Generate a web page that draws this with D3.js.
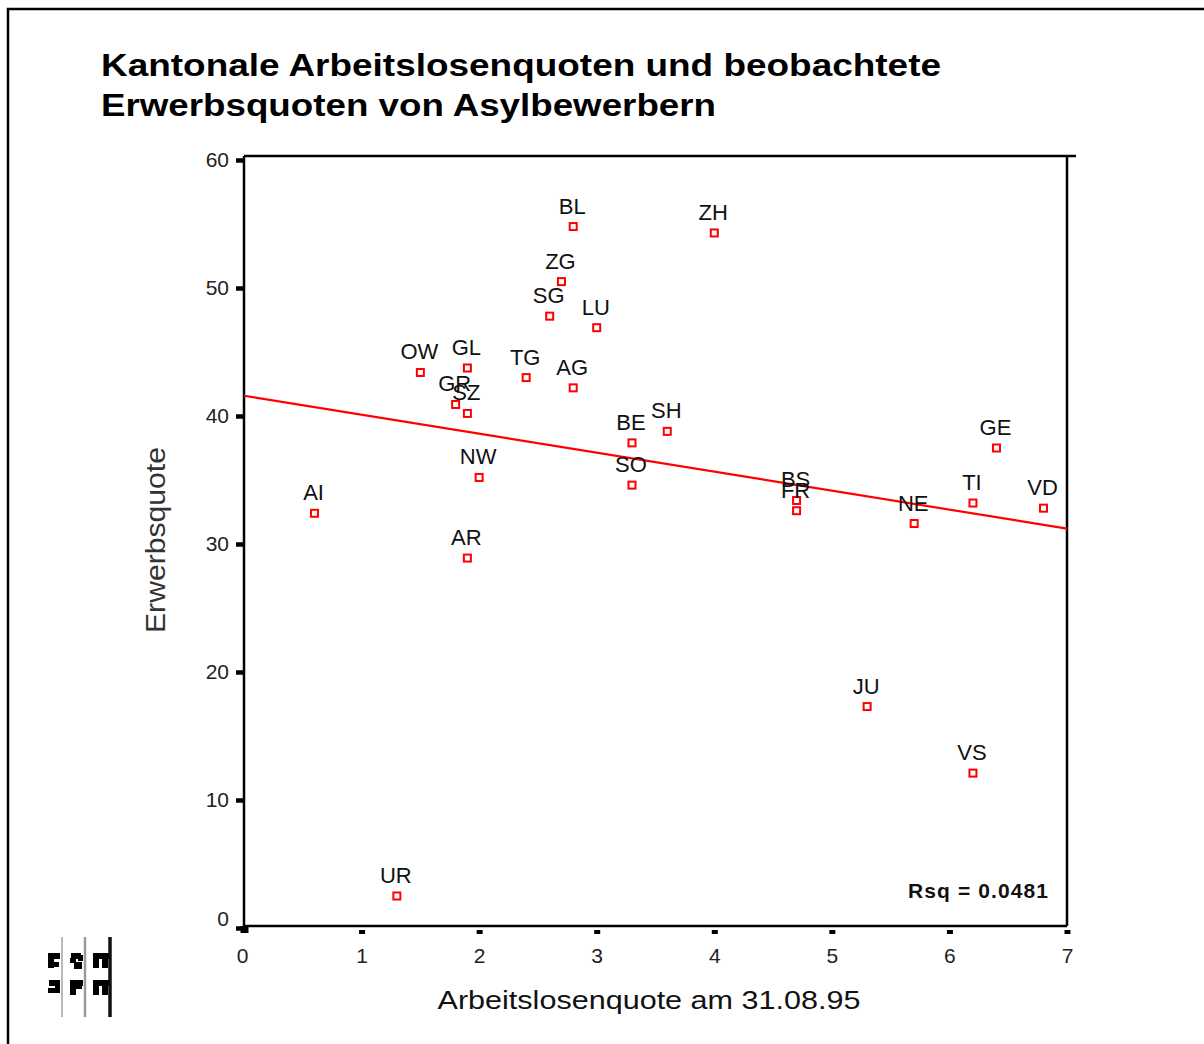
<!DOCTYPE html>
<html><head><meta charset="utf-8">
<script src="https://cdn.jsdelivr.net/npm/d3@7"></script>
<style>
html,body{margin:0;padding:0;background:#fff;}
svg{display:block;font-family:"Liberation Sans",Arial,sans-serif;}
</style></head>
<body>
<svg id="chart" width="1204" height="1044"></svg>
<script>
const cantons = ["BL","ZH","ZG","SG","LU","OW","GL","TG","AG","GR","SZ","BE","SH","GE","NW","SO","AI","BS","FR","TI","VD","NE","AR","JU","VS","UR"];
const arbeitslosenquote = [2.8,4.0,2.7,2.6,3.0,1.5,1.9,2.4,2.8,1.8,1.9,3.3,3.6,6.4,2.0,3.3,0.6,4.7,4.7,6.2,6.8,5.7,1.9,5.3,6.2,1.3];
const erwerbsquote = [54.8,54.3,50.5,47.8,46.9,43.4,43.75,43.0,42.2,40.9,40.2,37.9,38.8,37.5,35.2,34.6,32.4,33.4,32.6,33.2,32.8,31.6,28.9,17.3,12.1,2.5];
const xTicks = [0,1,2,3,4,5,6,7];
const yTicks = [0,10,20,30,40,50,60];
const titleLines = ["Kantonale Arbeitslosenquoten und beobachtete","Erwerbsquoten von Asylbewerbern"];
const xLabel = "Arbeitslosenquote am 31.08.95";
const yLabel = "Erwerbsquote";
const rsqLabel = "Rsq = 0.0481";

const svg = d3.select("#chart");
const L=244, R=1067, T=156, B=926;
const x = d3.scaleLinear().domain([0,7]).range([244,1067]);
const y = d3.scaleLinear().domain([0,60]).range([928,160]);

// outer border
svg.append("path").attr("d","M8,1044 L8,9 L1204,9").attr("fill","none").attr("stroke","#000").attr("stroke-width",2.5);

// title
titleLines.forEach((t,i)=>{
  svg.append("text").attr("x",101).attr("y",76+i*40).attr("font-size",31).attr("font-weight","bold")
    .attr("fill","#000").attr("textLength", i===0?840:615).attr("lengthAdjust","spacingAndGlyphs").text(t);
});

// frame
svg.append("line").attr("x1",L).attr("x2",1076).attr("y1",T).attr("y2",T).attr("stroke","#000").attr("stroke-width",2.5);
svg.append("line").attr("x1",R).attr("x2",R).attr("y1",T).attr("y2",B).attr("stroke","#000").attr("stroke-width",2.5);
svg.append("line").attr("x1",L).attr("x2",R).attr("y1",B).attr("y2",B).attr("stroke","#000").attr("stroke-width",2.5);
svg.append("line").attr("x1",L).attr("x2",L).attr("y1",T).attr("y2",929).attr("stroke","#000").attr("stroke-width",2.5);

// y axis
const gy = svg.append("g").attr("transform","translate(243,0)")
  .call(d3.axisLeft(y).tickValues(yTicks).tickSize(7).tickPadding(7).tickFormat(d3.format("d")));
gy.select(".domain").remove();
gy.selectAll(".tick line").attr("stroke","#000").attr("stroke-width",4.5);
gy.selectAll(".tick text").attr("font-size",21).attr("fill","#222").attr("font-family","Liberation Sans, Arial, sans-serif");
gy.selectAll(".tick").filter(d=>d===0).select("text").attr("dy","-0.1em");

// x axis
const gx = svg.append("g").attr("transform","translate(0,930)")
  .call(d3.axisBottom(x).tickValues(xTicks).tickSize(4).tickPadding(14).tickFormat(d3.format("d")));
gx.select(".domain").remove();
gx.selectAll(".tick line").attr("stroke","#000").attr("stroke-width",6);
gx.selectAll(".tick text").attr("font-size",21).attr("fill","#222").attr("font-family","Liberation Sans, Arial, sans-serif");
gx.selectAll(".tick").filter(d=>d===0).select("line").attr("y1",-4).attr("y2",3).attr("stroke-width",8);
gx.selectAll(".tick").filter(d=>d===0).select("text").attr("dx","-2");

// axis labels
svg.append("text").attr("x",649).attr("y",1009).attr("text-anchor","middle").attr("font-size",26)
  .attr("fill","#111").attr("textLength",423).attr("lengthAdjust","spacingAndGlyphs").text(xLabel);
svg.append("text").attr("transform","translate(165,540) rotate(-90)").attr("text-anchor","middle")
  .attr("font-size",27).attr("fill","#333").attr("textLength",186).attr("lengthAdjust","spacingAndGlyphs").text(yLabel);

// regression line (least squares)
const n = cantons.length;
const mx = d3.mean(arbeitslosenquote), my = d3.mean(erwerbsquote);
let sxy=0, sxx=0;
for(let i=0;i<n;i++){ sxy+=(arbeitslosenquote[i]-mx)*(erwerbsquote[i]-my); sxx+=(arbeitslosenquote[i]-mx)**2; }
const slope = sxy/sxx, icpt = my - slope*mx;
svg.append("line").attr("x1",x(0)).attr("y1",y(icpt)).attr("x2",x(7)).attr("y2",y(icpt+slope*7))
  .attr("stroke","#ff0000").attr("stroke-width",2.2);

// points
const pts = cantons.map((c,i)=>({c, xv:arbeitslosenquote[i], yv:erwerbsquote[i]}));
svg.append("g").selectAll("rect").data(pts).join("rect")
  .attr("x",d=>x(d.xv)-3.5).attr("y",d=>y(d.yv)-3.5).attr("width",7).attr("height",7)
  .attr("fill","#fff").attr("stroke","#ff0000").attr("stroke-width",2);
svg.append("g").selectAll("text").data(pts).join("text")
  .attr("x",d=>x(d.xv)-1).attr("y",d=>y(d.yv)-13).attr("text-anchor","middle")
  .attr("font-size",22).attr("fill","#111").text(d=>d.c);

// Rsq
svg.append("text").attr("x",1048).attr("y",898).attr("text-anchor","end").attr("font-size",21)
  .attr("font-weight","bold").attr("fill","#111").attr("textLength",140).attr("lengthAdjust","spacing").text(rsqLabel);

// logo (decoration)
const logo = svg.append("g");
[[62,"#bbb",2],[85,"#999",2.5],[110,"#111",3.5]].forEach(([lx,c,w])=>{
  logo.append("line").attr("x1",lx).attr("x2",lx).attr("y1",937).attr("y2",1017).attr("stroke",c).attr("stroke-width",w);
});
const blobs = [
 [48,953,12,6],[48,959,6,9],[53,962,6,5],
 [71,953,10,6],[70,958,6,5],[74,962,8,7],[78,955,5,6],
 [93,953,16,6],[93,958,6,10],[102,958,6,10],
 [49,980,11,6],[55,985,5,8],[48,988,8,5],
 [70,980,13,6],[70,985,6,10],[76,985,6,4],
 [93,980,16,6],[93,985,6,10],[102,985,6,10]
];
blobs.forEach(([bx,by,bw,bh])=>logo.append("rect").attr("x",bx).attr("y",by).attr("width",bw).attr("height",bh).attr("fill","#000"));
</script>
</body></html>
